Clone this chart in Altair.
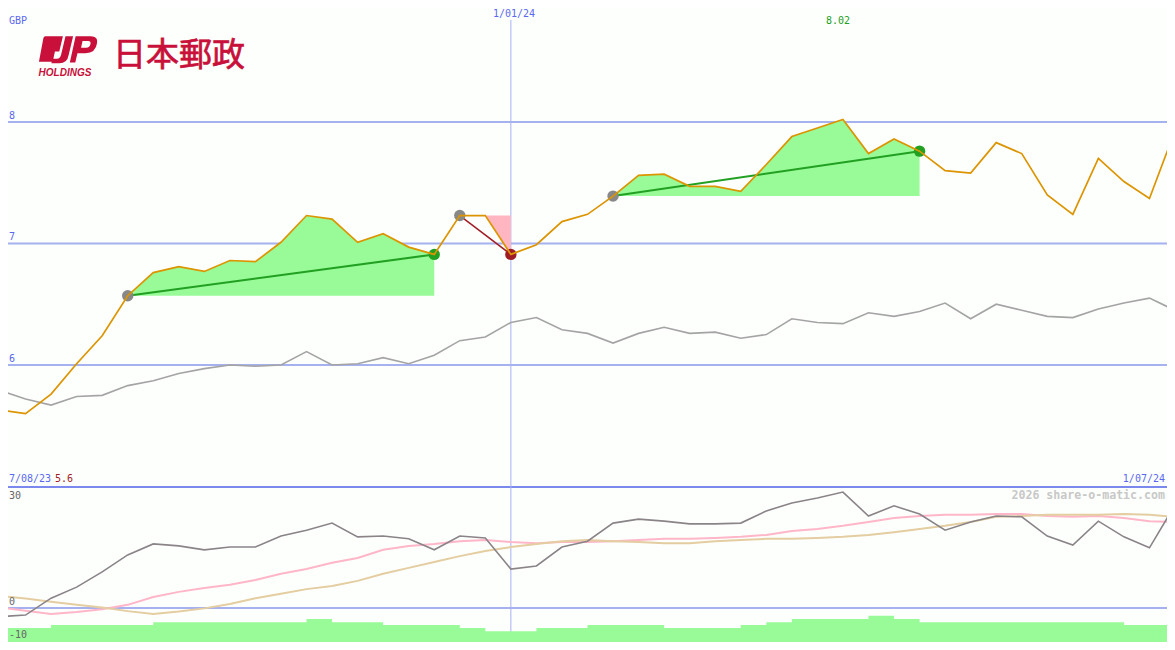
import altair as alt
import pandas as pd

# weekly closes, 7/08/23 .. 1/07/24
close = [5.63, 5.60, 5.76, 6.01, 6.24, 6.57, 6.76, 6.81, 6.77, 6.86, 6.85, 7.01,
         7.23, 7.20, 7.01, 7.08, 6.97, 6.91, 7.23, 7.23, 6.91, 6.99, 7.18, 7.24,
         7.39, 7.56, 7.57, 7.47, 7.47, 7.43, 7.65, 7.88, 7.95, 8.02, 7.74, 7.86,
         7.76, 7.60, 7.58, 7.83, 7.74, 7.40, 7.24, 7.70, 7.51, 7.37, 7.93]
index_line = [5.79, 5.72, 5.67, 5.74, 5.75, 5.83, 5.87, 5.93, 5.97, 6.00, 5.99, 6.00,
              6.11, 6.00, 6.01, 6.06, 6.01, 6.08, 6.20, 6.23, 6.35, 6.39, 6.29, 6.26,
              6.18, 6.26, 6.31, 6.26, 6.27, 6.22, 6.25, 6.38, 6.35, 6.34, 6.43, 6.40,
              6.44, 6.51, 6.38, 6.50, 6.45, 6.40, 6.39, 6.46, 6.51, 6.55, 6.45]
momentum = [-2.2, -1.8, 2.5, 5.3, 9.2, 13.5, 16.3, 15.8, 14.8, 15.5, 15.5, 18.3,
            19.8, 21.6, 18.1, 18.3, 17.6, 14.8, 18.3, 17.8, 9.9, 10.7, 15.5, 17.0,
            21.6, 22.6, 22.1, 21.4, 21.4, 21.6, 24.7, 26.7, 28.0, 29.5, 23.4, 26.0,
            23.9, 19.8, 21.9, 23.4, 23.2, 18.3, 16.0, 22.1, 18.1, 15.3, 26.2]
smooth_fast = [0.1, -0.7, -1.5, -1.0, -0.3, 0.8, 2.8, 4.1, 5.1, 5.9, 7.1, 8.7,
               9.9, 11.5, 12.7, 14.8, 15.8, 16.3, 17.0, 17.3, 16.8, 16.5, 16.8, 16.8,
               17.0, 17.3, 17.6, 17.6, 17.8, 18.1, 18.6, 19.6, 20.1, 20.9, 21.9, 22.9,
               23.4, 23.7, 23.7, 23.9, 23.9, 23.4, 23.2, 23.4, 22.9, 22.1, 21.9]
smooth_slow = [3.1, 2.4, 1.6, 0.8, 0.1, -0.8, -1.5, -0.9, -0.1, 1.0, 2.5, 3.6,
               4.8, 5.6, 6.9, 8.7, 10.2, 11.7, 13.2, 14.5, 15.5, 16.3, 17.0, 17.3,
               17.0, 16.8, 16.5, 16.5, 17.0, 17.3, 17.6, 17.6, 17.8, 18.1, 18.6, 19.3,
               20.1, 20.9, 21.9, 23.2, 23.4, 23.7, 23.7, 23.7, 23.9, 23.7, 23.2]
volume = [-5.1, -5.1, -4.3, -4.3, -4.3, -4.3, -3.6, -3.6, -3.6, -3.6, -3.6, -3.6,
          -2.8, -3.6, -3.6, -4.3, -4.3, -4.3, -5.1, -5.9, -5.9, -5.1, -5.1, -4.3,
          -4.3, -4.3, -5.1, -5.1, -5.1, -4.3, -3.6, -2.8, -2.8, -2.8, -2.0, -2.8,
          -3.6, -3.6, -3.6, -3.6, -3.6, -3.6, -3.6, -3.6, -4.3, -4.3, -4.3]
weeks = list(range(len(close)))

price_ticks = [6, 7, 8]

df = pd.DataFrame({"week": weeks, "close": close, "index_line": index_line,
                   "momentum": momentum, "fast": smooth_fast, "slow": smooth_slow,
                   "volume": volume, "vol_base": -10.7})

wins = [(5, 17), (24, 36)]
loss = (18, 20)

WIN_FILL = "#98fb98"
LOSS_FILL = "#ffb6c1"
GRID = "#a6b1f0"
BLUE = "#5a68f0"
RED = "#c8103a"

x_week = alt.X("week:Q", axis=None, scale=alt.Scale(domain=[0, 46], nice=False, zero=False))
price_scale = alt.Scale(domain=[3.654, 9.004], nice=False, zero=False)
lower_scale = alt.Scale(domain=[-10.69, 154.7], nice=False, zero=False)


def py(field):
    return alt.Y(field, type="quantitative", axis=None, scale=price_scale)


def ly(field):
    return alt.Y(field, type="quantitative", axis=None, scale=lower_scale)


def line(field, y, color, width):
    return alt.Chart(df).mark_line(color=color, strokeWidth=width).encode(x=x_week, y=y(field))


def label(txt, x, y, color, size=10, align="left", font="DejaVu Sans Mono", **kw):
    return alt.Chart(pd.DataFrame({"t": [txt]})).mark_text(
        align=align, baseline="middle", color=color, fontSize=size, font=font, **kw
    ).encode(text="t:N", x=alt.value(x), y=alt.value(y))


layers = []

# grid
layers.append(alt.Chart(pd.DataFrame({"v": price_ticks})).mark_rule(color=GRID, strokeWidth=2).encode(y=py("v")))
layers.append(alt.Chart(pd.DataFrame({"v": [0]})).mark_rule(color=GRID, strokeWidth=2).encode(y=ly("v")))
layers.append(alt.Chart(pd.DataFrame({"v": [30.8]})).mark_rule(color="#7b88ee", strokeWidth=2).encode(y=ly("v")))
layers.append(alt.Chart(pd.DataFrame({"week": [20]})).mark_rule(color=GRID, strokeWidth=1).encode(
    x=x_week, y=alt.value(20), y2=alt.value(650)))

# volume
layers.append(alt.Chart(df).mark_area(color=WIN_FILL, opacity=1, interpolate="step-after").encode(
    x=x_week, y=ly("volume"), y2=alt.Y2("vol_base")))

# winning and losing trades
for a, b in wins:
    seg = df[(df.week >= a) & (df.week <= b)].assign(base=close[a])
    layers.append(alt.Chart(seg).mark_area(color=WIN_FILL, opacity=1).encode(
        x=x_week, y=py("close"), y2=alt.Y2("base")))
seg = df[(df.week >= loss[0]) & (df.week <= loss[1])].assign(base=close[loss[0]])
layers.append(alt.Chart(seg).mark_area(color=LOSS_FILL, opacity=1).encode(
    x=x_week, y=py("base"), y2=alt.Y2("close")))

for a, b in wins:
    seg = df[df.week.isin([a, b])]
    layers.append(alt.Chart(seg).mark_line(color="#22a022", strokeWidth=2).encode(x=x_week, y=py("close")))
seg = df[df.week.isin(list(loss))]
layers.append(alt.Chart(seg).mark_line(color="#a01c24", strokeWidth=1.5).encode(x=x_week, y=py("close")))

starts = [w[0] for w in wins] + [loss[0]]
ends_win = [w[1] for w in wins]
for weeks_in, col in [(starts, "#888888"), (ends_win, "#22a022"), ([loss[1]], "#a01c24")]:
    layers.append(alt.Chart(df[df.week.isin(weeks_in)]).mark_circle(color=col, opacity=1, size=130).encode(
        x=x_week, y=py("close")))

# price lines
layers.append(line("index_line", py, "#a4a4a4", 1.6))
layers.append(line("close", py, "#dc9400", 1.7))

# lower panel lines
layers.append(line("fast", ly, "#ffb6c8", 2))
layers.append(line("slow", ly, "#e4cda0", 2))
layers.append(line("momentum", ly, "#8a8488", 1.6))

# tick labels
tick_df = pd.DataFrame({"v": price_ticks, "t": [str(v) for v in price_ticks]})
layers.append(alt.Chart(tick_df).mark_text(align="left", baseline="middle", color=BLUE, fontSize=10,
                                           font="DejaVu Sans Mono", dy=-6).encode(
    x=alt.value(9), y=py("v"), text="t:N"))

layers += [
    label("30", 9, 496, "#666666"),
    label("0", 9, 602, "#666666"),
    label("-10", 9, 635, "#666666"),
    label("GBP", 9, 21, BLUE),
    label("1/01/24", 514, 14, BLUE, align="center"),
    label("8.02", 838, 21, "#22a022", align="center"),
    label("7/08/23", 9, 479, BLUE),
    label("5.6", 55, 479, "#a01c24"),
    label("1/07/24", 1165, 479, BLUE, align="right"),
    label("2026 share-o-matic.com", 1165, 496, "#c8c8c8", size=11.6, align="right", fontWeight="bold"),
    label("日本郵政", 179, 56, RED, size=33, align="center", font="Noto Sans CJK JP",
          stroke=RED, strokeWidth=0.7),
    label("HOLDINGS", 65, 73, RED, size=10, align="center", font="Liberation Sans",
          fontWeight="bold", fontStyle="italic"),
]


# logo mark, drawn from points
def p(x, y):
    return f"{(x - 92) / 80 * 1.09:.3f},{(y - 44) / 80 * 1.18:.3f}"


logo_path = (
    f"M{p(30, 9)} L{p(78, 9)} L{p(68, 48)} L{p(56, 48)} L{p(50, 74)} L{p(12, 74)} "
    f"L{p(24, 15)} Q{p(25, 9)} {p(30, 9)} Z "
    f"M{p(85, 9)} L{p(106, 9)} L{p(94, 56)} Q{p(90, 78)} {p(68, 78)} L{p(46, 78)} "
    f"L{p(50, 66)} L{p(62, 66)} Q{p(70, 66)} {p(73, 56)} Z "
    f"M{p(113, 9)} L{p(155, 9)} Q{p(175, 9)} {p(172, 26)} Q{p(168, 52)} {p(140, 52)} "
    f"L{p(118, 52)} L{p(112, 76)} L{p(97, 76)} Z "
    f"M{p(128, 38)} L{p(142, 38)} Q{p(152, 38)} {p(154, 28)} Q{p(155, 21)} {p(148, 21)} L{p(132, 21)} Z"
)
layers.append(alt.Chart(pd.DataFrame({"a": [0]})).mark_point(
    shape=logo_path, filled=True, fill=RED, color=RED, opacity=1, size=2844, strokeWidth=0
).encode(x=alt.value(68), y=alt.value(50)))

chart = alt.layer(*layers).resolve_scale(y="independent").properties(
    width=1175,
    height=650,
    background="#fdfffd",
    autosize=alt.AutoSizeParams(type="none"),
    padding={"left": -8, "top": -8, "right": -8, "bottom": -8},
).configure_view(stroke=None)

chart.save("out.html", embed_options={"renderer": "svg", "actions": False})
